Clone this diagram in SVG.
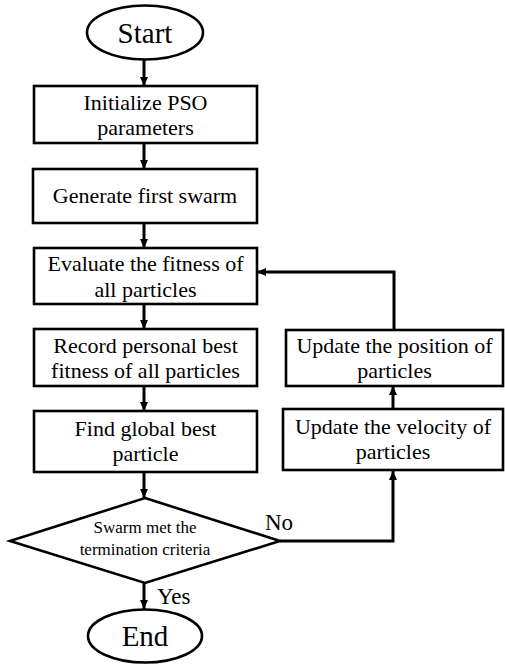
<svg xmlns="http://www.w3.org/2000/svg" width="505" height="664" viewBox="0 0 505 664">
<defs>
<style>
.shape{fill:#fff;stroke:#000;stroke-width:2.6}
.t{font-family:"Liberation Serif","Times New Roman",serif;font-size:22px;fill:#000;text-anchor:middle}
.big{font-size:29px}
.small{font-size:17px}
.lbl{font-family:"Liberation Serif","Times New Roman",serif;font-size:23px;fill:#000}
.c{fill:none;stroke:#000;stroke-width:3;marker-end:url(#ah)}
.cn{fill:none;stroke:#000;stroke-width:3}
</style>
<marker id="ah" markerWidth="9" markerHeight="8" refX="9" refY="4" orient="auto" markerUnits="userSpaceOnUse">
<path d="M0,0 L9,4 L0,8 Z" fill="#000"/>
</marker>
</defs>
<rect width="505" height="664" fill="#fff"/>
<g id="connectors">
<path class="c" d="M144,60 V86"/>
<path class="c" d="M144,143 V169"/>
<path class="c" d="M144,223 V248"/>
<path class="c" d="M144,304 V329"/>
<path class="c" d="M144,386 V411"/>
<path class="c" d="M144,472 V498"/>
<path class="c" d="M144,583 V609"/>
<path class="c" d="M280,541 H393 V471"/>
<path class="c" d="M393,409 V386"/>
<path class="c" d="M394,330 V272 H257"/>
</g>
<g id="start">
<ellipse class="shape" cx="145" cy="32.5" rx="58" ry="27"/>
<text class="t big" x="145" y="43">Start</text>
</g>
<g id="init">
<rect class="shape" x="34" y="86" width="223" height="57"/>
<text class="t" x="145.5" y="110">Initialize PSO</text>
<text class="t" x="145.5" y="135">parameters</text>
</g>
<g id="generate">
<rect class="shape" x="33" y="169" width="224" height="54"/>
<text class="t" x="145" y="203">Generate first swarm</text>
</g>
<g id="evaluate">
<rect class="shape" x="34" y="248" width="223" height="56"/>
<text class="t" x="145.5" y="271">Evaluate the fitness of</text>
<text class="t" x="145.5" y="297">all particles</text>
</g>
<g id="record">
<rect class="shape" x="34" y="329" width="223" height="57"/>
<text class="t" x="145.5" y="353">Record personal best</text>
<text class="t" x="145.5" y="378">fitness of all particles</text>
</g>
<g id="global">
<rect class="shape" x="34" y="411" width="223" height="61"/>
<text class="t" x="145.5" y="436">Find global best</text>
<text class="t" x="145.5" y="461">particle</text>
</g>
<g id="position">
<rect class="shape" x="286" y="330" width="217" height="56"/>
<text class="t" x="394.5" y="353">Update the position of</text>
<text class="t" x="394.5" y="378">particles</text>
</g>
<g id="velocity">
<rect class="shape" x="283" y="409" width="220" height="61"/>
<text class="t" x="393" y="434">Update the velocity of</text>
<text class="t" x="393" y="459">particles</text>
</g>
<g id="decision">
<polygon class="shape" points="145,498 280,541 145,583 10,541"/>
<text class="t small" x="145" y="533">Swarm met the</text>
<text class="t small" x="145" y="555">termination criteria</text>
</g>
<g id="end">
<ellipse class="shape" cx="145" cy="636" rx="57" ry="26.5"/>
<text class="t big" x="145" y="646">End</text>
</g>
<g id="labels">
<text class="lbl" x="265" y="530">No</text>
<text class="lbl" x="157" y="604">Yes</text>
</g>
</svg>
